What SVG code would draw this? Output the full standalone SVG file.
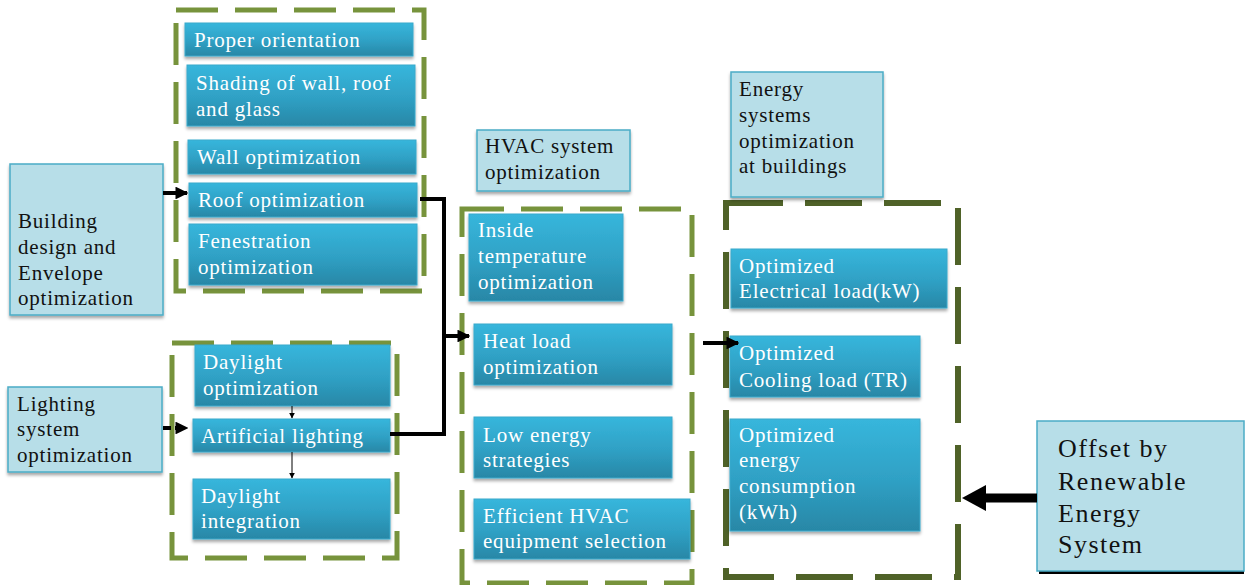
<svg xmlns="http://www.w3.org/2000/svg" width="1254" height="585" viewBox="0 0 1254 585">
<defs>
<linearGradient id="blue" x1="0" y1="0" x2="0" y2="1">
<stop offset="0" stop-color="#37b6dc"/>
<stop offset="0.55" stop-color="#2fa0c4"/>
<stop offset="1" stop-color="#2887a6"/>
</linearGradient>
<filter id="sh" x="-10%" y="-10%" width="120%" height="130%">
<feDropShadow dx="0" dy="2.5" stdDeviation="1.5" flood-color="#000" flood-opacity="0.35"/>
</filter>
<marker id="ah" viewBox="0 0 10 10" refX="9" refY="5" markerWidth="3.2" markerHeight="3.2" orient="auto" markerUnits="strokeWidth">
<path d="M0,0 L10,5 L0,10 z" fill="#000"/>
</marker>
<marker id="ahs" viewBox="0 0 10 10" refX="9" refY="5" markerWidth="6" markerHeight="6" orient="auto" markerUnits="strokeWidth">
<path d="M0,0 L10,5 L0,10 z" fill="#000"/>
</marker>
</defs>
<style>
.b{fill:url(#blue);stroke:#3aa9cb;stroke-width:1;filter:url(#sh)}
.l{fill:#b7dee8;stroke:#4bacc6;stroke-width:1.5;filter:url(#sh)}
.tw{font-family:"Liberation Serif","Times New Roman",serif;font-size:21px;letter-spacing:0.8px;fill:#fff}
.tk{font-family:"Liberation Serif","Times New Roman",serif;font-size:21px;letter-spacing:0.8px;fill:#111}
.tb{font-family:"Liberation Serif","Times New Roman",serif;font-size:26px;letter-spacing:1.5px;fill:#111}
.g1{fill:none;stroke:#77933c;stroke-width:5;stroke-dasharray:42 17}
.g4{fill:none;stroke:#4f6228;stroke-width:6;stroke-dasharray:57 22}
.c{fill:none;stroke:#000;stroke-width:4}
.cs{fill:none;stroke:#000;stroke-width:1}
</style>

<g id="group-envelope"><rect class="g1" x="176" y="10" width="248" height="281"/></g>
<g id="group-lighting"><rect class="g1" x="172" y="343" width="225" height="215"/></g>
<g id="group-hvac"><rect class="g1" x="462" y="209" width="230" height="374"/></g>
<g id="group-energy"><rect class="g4" x="726" y="203" width="232" height="374"/></g>

<g id="building-design"><rect class="l" x="10" y="164" width="153" height="151"/>
<text class="tk" x="18" y="228">Building</text><text class="tk" x="18" y="254">design and</text><text class="tk" x="18" y="280">Envelope</text><text class="tk" x="18" y="305">optimization</text></g>

<g id="proper-orientation"><rect class="b" x="185" y="23" width="228" height="33"/><text class="tw" x="194" y="47">Proper orientation</text></g>
<g id="shading"><rect class="b" x="187" y="65" width="228" height="61"/><text class="tw" x="196" y="90">Shading of wall, roof</text><text class="tw" x="196" y="116">and glass</text></g>
<g id="wall"><rect class="b" x="188" y="140" width="228" height="34"/><text class="tw" x="197" y="164">Wall optimization</text></g>
<g id="roof"><rect class="b" x="189" y="183" width="228" height="34"/><text class="tw" x="198" y="207">Roof optimization</text></g>
<g id="fenestration"><rect class="b" x="189" y="224" width="228" height="61"/><text class="tw" x="198" y="248">Fenestration</text><text class="tw" x="198" y="274">optimization</text></g>

<g id="lighting-system"><rect class="l" x="8" y="387" width="154" height="85"/>
<text class="tk" x="17" y="411">Lighting</text><text class="tk" x="17" y="436">system</text><text class="tk" x="17" y="462">optimization</text></g>

<g id="daylight-opt"><rect class="b" x="195" y="345" width="195" height="61"/><text class="tw" x="203" y="369">Daylight</text><text class="tw" x="203" y="395">optimization</text></g>
<g id="artificial"><rect class="b" x="193" y="419" width="197" height="33"/><text class="tw" x="201" y="443">Artificial lighting</text></g>
<g id="daylight-int"><rect class="b" x="193" y="479" width="197" height="60"/><text class="tw" x="201" y="503">Daylight</text><text class="tw" x="201" y="528">integration</text></g>

<g id="hvac-label"><rect class="l" x="477" y="130" width="153" height="61"/><text class="tk" x="485" y="153">HVAC system</text><text class="tk" x="485" y="179">optimization</text></g>

<g id="inside-temp"><rect class="b" x="469" y="214" width="154" height="87"/><text class="tw" x="478" y="237">Inside</text><text class="tw" x="478" y="263">temperature</text><text class="tw" x="478" y="289">optimization</text></g>
<g id="heat-load"><rect class="b" x="474" y="324" width="198" height="61"/><text class="tw" x="483" y="348">Heat load</text><text class="tw" x="483" y="374">optimization</text></g>
<g id="low-energy"><rect class="b" x="474" y="417" width="198" height="61"/><text class="tw" x="483" y="442">Low energy</text><text class="tw" x="483" y="467">strategies</text></g>
<g id="efficient-hvac"><rect class="b" x="474" y="499" width="216" height="60"/><text class="tw" x="483" y="523">Efficient HVAC</text><text class="tw" x="483" y="548">equipment selection</text></g>

<g id="energy-label"><rect class="l" x="731" y="72" width="152" height="125"/>
<text class="tk" x="739" y="96">Energy</text><text class="tk" x="739" y="122">systems</text><text class="tk" x="739" y="148">optimization</text><text class="tk" x="739" y="173">at buildings</text></g>

<g id="electrical"><rect class="b" x="731" y="249" width="216" height="59"/><text class="tw" x="739" y="273">Optimized</text><text class="tw" x="739" y="298">Electrical load(kW)</text></g>
<g id="cooling"><rect class="b" x="730" y="336" width="190" height="61"/><text class="tw" x="739" y="360">Optimized</text><text class="tw" x="739" y="387">Cooling load (TR)</text></g>
<g id="consumption"><rect class="b" x="730" y="419" width="190" height="112"/><text class="tw" x="739" y="442">Optimized</text><text class="tw" x="739" y="467">energy</text><text class="tw" x="739" y="493">consumption</text><text class="tw" x="739" y="519">(kWh)</text></g>

<g id="offset"><rect x="1039" y="423" width="205" height="151" fill="#000"/><rect x="1037" y="421" width="207" height="150" fill="#b7dee8" stroke="#4bacc6" stroke-width="1.5"/>
<text class="tb" x="1058" y="457">Offset by</text><text class="tb" x="1058" y="490">Renewable</text><text class="tb" x="1058" y="522">Energy</text><text class="tb" x="1058" y="553">System</text></g>

<g id="connectors">
<line class="c" x1="163" y1="193" x2="187" y2="193" marker-end="url(#ah)"/>
<line class="c" x1="163" y1="428" x2="187" y2="428" marker-end="url(#ah)" stroke-dasharray="8 4"/>
<line class="cs" x1="292" y1="406" x2="292" y2="418" marker-end="url(#ahs)"/>
<line class="cs" x1="292" y1="452" x2="292" y2="478" marker-end="url(#ahs)"/>
<polyline class="c" points="420,199 444,199 444,434 390,434"/>
<line class="c" x1="444" y1="336" x2="469" y2="336" marker-end="url(#ah)"/>
<line class="c" x1="703" y1="343" x2="738" y2="343" stroke-width="3" marker-end="url(#ah)"/>
<line x1="1037" y1="498" x2="980" y2="498" stroke="#000" stroke-width="9"/>
<path d="M962,498 L986,485 L986,511 z" fill="#000"/>
</g>
</svg>
